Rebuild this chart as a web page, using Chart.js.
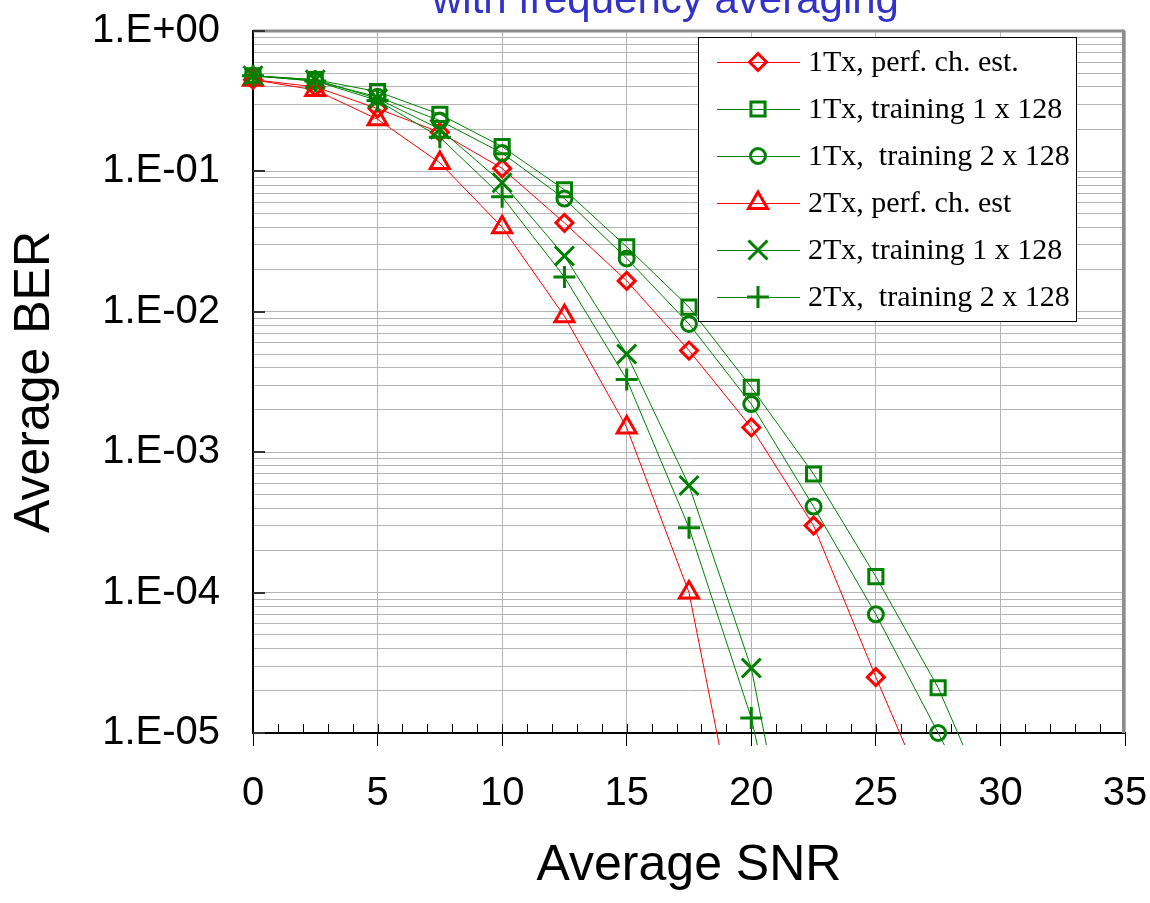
<!DOCTYPE html>
<html><head><meta charset="utf-8">
<script src="https://cdn.jsdelivr.net/npm/chart.js@4/dist/chart.umd.min.js"></script>
<style>html,body{margin:0;padding:0;background:#fff;overflow:hidden}canvas{display:block}</style>
</head><body>
<canvas id="c" width="1150" height="903"></canvas>
<script>
// ---- data ----
const snr = [0, 2.5, 5, 7.5, 10, 12.5, 15, 17.5, 20, 22.5, 25, 27.5, 30];
const ber1TxPerf   = [0.45, 0.40, 0.28, 0.19, 0.105, 0.043, 0.0166, 0.0053, 0.0015, 3.0e-4, 2.5e-5, 2.3e-6];
const ber1TxTrain1 = [0.48, 0.45, 0.37, 0.255, 0.15, 0.074, 0.029, 0.0108, 0.0029, 7.0e-4, 1.3e-4, 2.1e-5, 2.0e-6];
const ber1TxTrain2 = [0.48, 0.44, 0.34, 0.23, 0.135, 0.064, 0.024, 0.0082, 0.0022, 4.1e-4, 7.0e-5, 1.0e-5, 1.4e-6];
const ber2TxPerf   = [0.45, 0.38, 0.235, 0.115, 0.040, 0.0093, 0.0015, 1.0e-4, 5.8e-7];
const ber2TxTrain1 = [0.48, 0.45, 0.33, 0.20, 0.083, 0.025, 0.005, 5.8e-4, 2.9e-5, 1.6e-7];
const ber2TxTrain2 = [0.48, 0.44, 0.32, 0.175, 0.066, 0.0177, 0.0033, 2.9e-4, 1.28e-5, 1.3e-7];
const seriesLabels = ['1Tx, perf. ch. est.', '1Tx, training 1 x 128', '1Tx,  training 2 x 128',
                      '2Tx, perf. ch. est', '2Tx, training 1 x 128', '2Tx,  training 2 x 128'];
const yDecades = [1e-5, 1e-4, 1e-3, 1e-2, 1e-1, 1];
const yTickLabels = ['1.E-05', '1.E-04', '1.E-03', '1.E-02', '1.E-01', '1.E+00'];
const xTickValues = [0, 5, 10, 15, 20, 25, 30, 35];
const chartTitle = 'with frequency averaging';
const xTitle = 'Average SNR';
const yTitle = 'Average BER';

// ---- styling ----
const RED = '#FF0000', GREEN = '#008000';
const SANS = "'Liberation Sans', Arial, Helvetica, sans-serif";
const SERIF = "'Liberation Serif', 'Times New Roman', serif";

function pts(vals){ return vals.map((v,i)=>({x: snr[i], y: v})); }
function ds(label, vals, color, style, radius, order){
  return {label, data: pts(vals), borderColor: color, borderWidth: 1, pointStyle: style,
    pointRadius: radius, pointHoverRadius: radius, pointBorderWidth: 3, pointBorderColor: color,
    pointBackgroundColor: 'rgba(0,0,0,0)', backgroundColor: 'rgba(0,0,0,0)', fill: false, tension: 0,
    clip: {left: 20, top: 5, right: 5, bottom: 12}, order};
}
const datasets = [
  ds(seriesLabels[0], ber1TxPerf,   RED,   'rectRot',  8.5, 5),
  ds(seriesLabels[1], ber1TxTrain1, GREEN, 'rect',     10,  4),
  ds(seriesLabels[2], ber1TxTrain2, GREEN, 'circle',   7.5, 3),
  ds(seriesLabels[3], ber2TxPerf,   RED,   'triangle', 11,  2),
  ds(seriesLabels[4], ber2TxTrain1, GREEN, 'crossRot', 13.4,1),
  ds(seriesLabels[5], ber2TxTrain2, GREEN, 'cross',    11,  0)
];

const yTickValues = [];
yDecades.forEach((d, k) => { if (k < yDecades.length - 1) { for (let s = 1; s <= 9; s++) yTickValues.push(d * s); } else yTickValues.push(d); });

const titlePlugin = {
  id: 'cutTitle',
  afterDraw(chart){
    const ctx = chart.ctx; ctx.save();
    ctx.font = '42px ' + SANS; ctx.fillStyle = '#3232C8';
    ctx.textBaseline = 'alphabetic'; ctx.textAlign = 'left';
    ctx.fillText(chartTitle, 432, 13);
    ctx.restore();
  }
};

const framePlugin = {
  id: 'frame',
  beforeDatasetsDraw(chart){
    const ctx = chart.ctx, a = chart.chartArea, xs = chart.scales.x, ys = chart.scales.y;
    ctx.save();
    ctx.strokeStyle = '#8c8c8c'; ctx.lineWidth = 3;
    ctx.beginPath(); ctx.moveTo(a.left, a.top); ctx.lineTo(a.right - 1.5, a.top); ctx.lineTo(a.right - 1.5, a.bottom); ctx.stroke();
    ctx.strokeStyle = '#000'; ctx.lineWidth = 1;
    ctx.beginPath();
    for (let v = xs.min + 1; v < xs.max; v++) {
      const px = Math.round(xs.getPixelForValue(v)) + 0.5;
      ctx.moveTo(px, a.bottom); ctx.lineTo(px, a.bottom - 9);
    }
    ctx.stroke();
    ctx.strokeStyle = '#333'; ctx.lineWidth = 2;
    ctx.beginPath();
    yDecades.forEach(d => { const py = Math.round(ys.getPixelForValue(d)); ctx.moveTo(a.left, py); ctx.lineTo(a.left + 12, py); });
    ctx.stroke();
    ctx.restore();
  }
};

const legendPlugin = {
  id: 'boxLegend',
  afterDraw(chart){
    const ctx = chart.ctx;
    const L = 698, T = 37, R = 1077, B = 322, row0 = 62, step = 47;
    ctx.save();
    ctx.fillStyle = '#fff'; ctx.fillRect(L, T, R - L, B - T);
    ctx.strokeStyle = '#000'; ctx.lineWidth = 1; ctx.strokeRect(L + 0.5, T + 0.5, R - L - 1, B - T - 1);
    chart.data.datasets.forEach((d, i) => {
      const y = row0 + i * step;
      ctx.strokeStyle = d.borderColor; ctx.lineWidth = 1;
      ctx.beginPath(); ctx.moveTo(717, y + 0.5); ctx.lineTo(800, y + 0.5); ctx.stroke();
      ctx.strokeStyle = d.pointBorderColor; ctx.lineWidth = d.pointBorderWidth; ctx.fillStyle = 'rgba(0,0,0,0)';
      Chart.helpers.drawPoint(ctx, {pointStyle: d.pointStyle, radius: d.pointRadius, borderWidth: d.pointBorderWidth, rotation: 0}, 758, y);
      ctx.fillStyle = '#000'; ctx.font = '30px ' + SERIF; ctx.textBaseline = 'middle'; ctx.textAlign = 'left';
      ctx.fillText(d.label, 808, y + 1);
    });
    ctx.restore();
  }
};

new Chart(document.getElementById('c'), {
  type: 'line',
  data: {datasets},
  plugins: [framePlugin, legendPlugin, titlePlugin],
  options: {
    responsive: false, animation: false, devicePixelRatio: 1,
    layout: {padding: {left: 0, right: 25, top: 31, bottom: 0}},
    plugins: {legend: {display: false}, title: {display: false}, tooltip: {enabled: false}},
    events: [],
    scales: {
      x: {
        type: 'linear', min: 0, max: 35,
        afterBuildTicks: s => { s.ticks = xTickValues.map(v => ({value: v})); },
        afterFit: s => { s.height = 170; s.paddingLeft = 0; s.paddingRight = 0; },
        ticks: {font: {size: 40, family: SANS}, color: '#000', padding: 24, autoSkip: false, maxRotation: 0,
                callback: v => String(v)},
        grid: {color: '#b4b4b4', lineWidth: 1, drawTicks: true, tickLength: 13, tickColor: '#000', tickWidth: 1},
        border: {color: '#000', width: 2},
        title: {display: true, text: xTitle, font: {size: 50, family: SANS}, color: '#000', padding: {top: 0, bottom: 7}}
      },
      y: {
        type: 'logarithmic', min: 1e-5, max: 1,
        afterBuildTicks: s => { s.ticks = yTickValues.map(v => ({value: v})); },
        afterFit: s => { s.width = 253; s.paddingTop = 0; s.paddingBottom = 0; },
        ticks: {font: {size: 40, family: SANS}, color: '#000', padding: 33, autoSkip: false,
                callback: v => { const k = yDecades.findIndex(d => Math.abs(Math.log10(d) - Math.log10(v)) < 1e-6); return k >= 0 ? yTickLabels[k] : ''; }},
        grid: {color: '#b4b4b4', lineWidth: 1, drawTicks: false},
        border: {color: '#000', width: 2},
        title: {display: true, text: yTitle, font: {size: 50, family: SANS}, color: '#000', padding: {top: 5, bottom: 0}}
      }
    }
  }
});
</script>
</body></html>
